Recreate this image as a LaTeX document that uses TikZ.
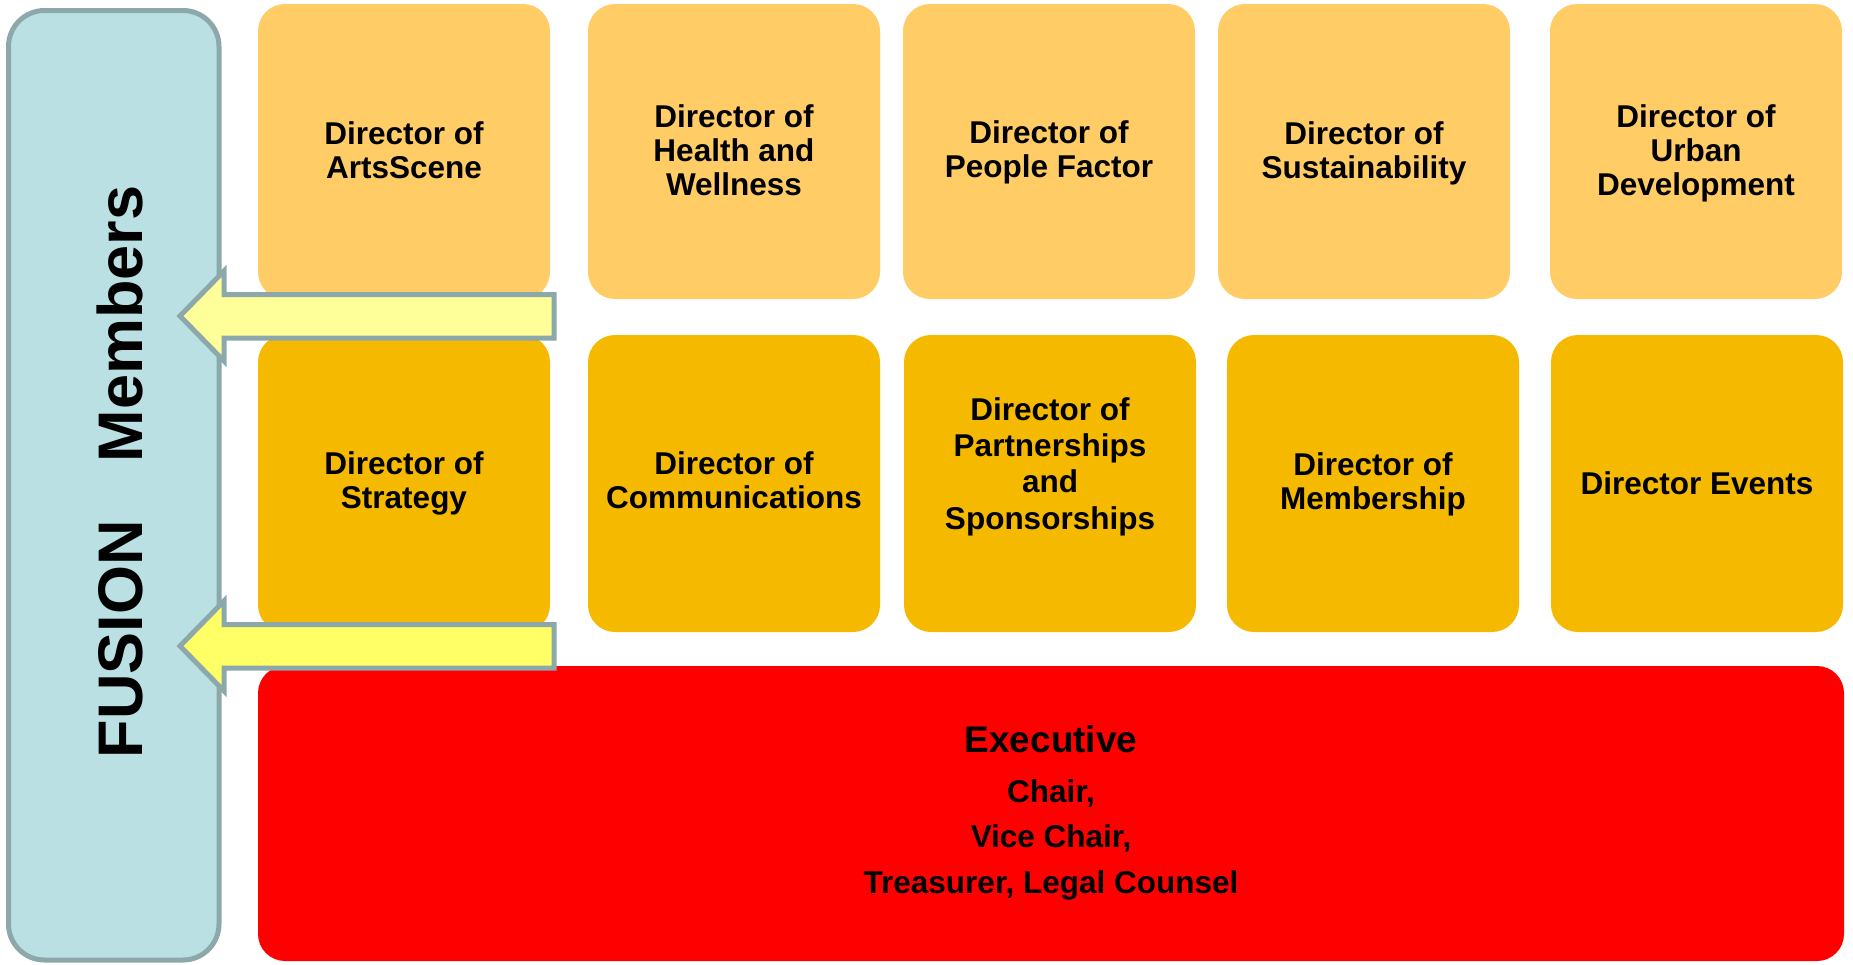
\documentclass[tikz,border=0pt]{standalone}
\usepackage{fontspec}
\setmainfont{Liberation Sans}
\definecolor{bluefill}{HTML}{BBE0E3}
\definecolor{edgegray}{HTML}{8DA8AB}
\definecolor{lightorange}{HTML}{FFCC66}
\definecolor{darkorange}{HTML}{F5BA00}
\definecolor{execred}{HTML}{FF0000}
\definecolor{arrowpale}{HTML}{FFFF99}
\definecolor{arrowbright}{HTML}{FFFF66}
\begin{document}
\begin{tikzpicture}[x=1pt,y=-1pt,
  tile/.style={rounded corners=27pt, inner sep=0pt, draw=none, minimum width=292pt},
  toprow/.style={tile, fill=lightorange, minimum height=295pt},
  midrow/.style={tile, fill=darkorange, minimum height=297pt},
  label/.style={anchor=north, inner sep=0pt, align=center, text=black,
    font=\fontsize{31.5}{34}\selectfont\bfseries},
  blockarrow/.style={draw=edgegray, line width=5pt, line join=miter}
]
\useasboundingbox (0,0) rectangle (1853,964);

% left column
\node[draw=edgegray, fill=bluefill, line width=5pt, rounded corners=36pt,
  minimum width=210.5pt, minimum height=949.5pt, inner sep=0pt] (members) at (113.75,485.25) {};
\node[rotate=90, anchor=base, inner sep=0pt, font=\fontsize{63}{70}\selectfont\bfseries] (memberstext)
  at (142,472) {FUSION\hspace{58pt}Members};

% top row
\node[toprow] (arts)   at (404,151.5)  {};
\node[toprow] (health) at (734,151.5)  {};
\node[toprow] (people) at (1049,151.5) {};
\node[toprow] (sust)   at (1364,151.5) {};
\node[toprow] (urban)  at (1696,151.5) {};

% middle row
\node[midrow] (strat)  at (404,483.5)  {};
\node[midrow] (comm)   at (734,483.5)  {};
\node[midrow] (part)   at (1050,483.5) {};
\node[midrow] (memb)   at (1373,483.5) {};
\node[midrow] (events) at (1697,483.5) {};

% executive
\node[tile, fill=execred, minimum width=1586pt, minimum height=295pt] (exec) at (1051,813.5) {};

% labels
\node[label] (artsT)   at (404,121.1)  {Director of\\ArtsScene};
\node[label] (healthT) at (734,104.1)  {Director of\\Health and\\Wellness};
\node[label] (peopleT) at (1049,120.1) {Director of\\People Factor};
\node[label] (sustT)   at (1364,121.1) {Director of\\Sustainability};
\node[label] (urbanT)  at (1696,104.1) {Director of\\Urban\\Development};

\node[label] (stratT)  at (404,451.5)  {Director of\\Strategy};
\node[label] (commT)   at (734,451.1)  {Director of\\Communications};
\node[label, font=\fontsize{31.5}{36.3}\selectfont\bfseries] (partT) at (1050,397.1)
  {Director of\\Partnerships\\and\\Sponsorships};
\node[label] (membT)   at (1373,452)   {Director of\\Membership};
\node[label] (eventsT) at (1697,471.1) {Director Events};

\node[label, font=\fontsize{37}{40}\selectfont\bfseries] (execT) at (1051,725.5) {Executive};
\node[label, font=\fontsize{31.5}{45.5}\selectfont\bfseries] (execM) at (1051,779)
  {Chair,\\Vice Chair,\\Treasurer, Legal Counsel};

% arrows
\draw[blockarrow, fill=arrowpale] (554,294.5) -- (224,294.5) -- (224,271) -- (180,316)
  -- (224,361) -- (224,338) -- (554,338) -- cycle;
\draw[blockarrow, fill=arrowbright] (554,624.5) -- (224,624.5) -- (224,601) -- (180,646)
  -- (224,691) -- (224,668) -- (554,668) -- cycle;
\end{tikzpicture}
\end{document}
